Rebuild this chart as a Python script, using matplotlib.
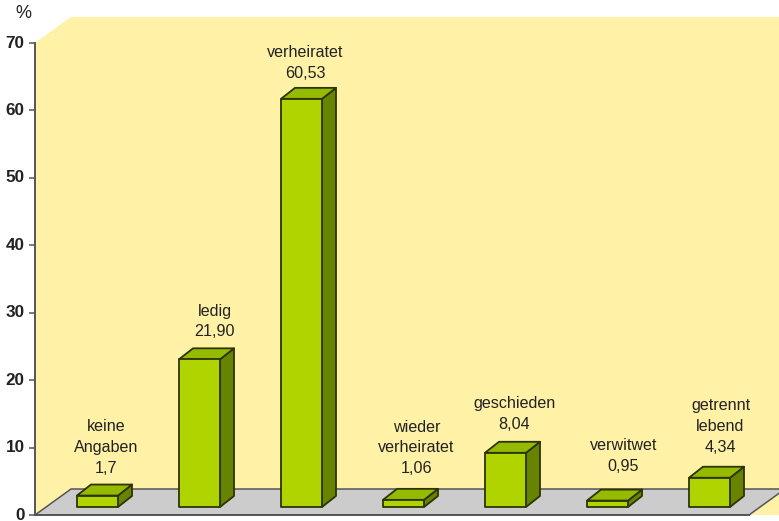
"""Marital status bar chart with a pseudo-3D look."""

import matplotlib
matplotlib.use("Agg")
import matplotlib.pyplot as plt
from matplotlib.patches import Polygon
from matplotlib.transforms import ScaledTranslation

plt.rcParams["font.family"] = ["Liberation Sans", "DejaVu Sans"]

categories = ["keine\nAngaben", "ledig", "verheiratet", "wieder\nverheiratet",
              "geschieden", "verwitwet", "getrennt\nlebend"]
values = [1.7, 21.90, 60.53, 1.06, 8.04, 0.95, 4.34]
value_labels = ["1,7", "21,90", "60,53", "1,06", "8,04", "0,95", "4,34"]
y_ticks = [0, 10, 20, 30, 40, 50, 60, 70]

WALL = "#fff2a6"
FLOOR = "#cccccc"
FRONT = "#b0d400"
TOP = "#94bb00"
SIDE = "#668400"
EDGE = "#2e3300"
AXIS = "#555555"
TEXT = "#222222"

W, H = 779, 521
PX_X = 102.0             # pixels per category step
PX_Y = 472 / 70          # pixels per percent
FIRST = 97.5             # pixel centre of the first bar

fig = plt.figure(figsize=(W / 100, H / 100), dpi=100)
ax = fig.add_axes([35 / W, (H - 515) / H, (W - 35) / W, (515 - 17) / H])
ax.set_xlim((35 - FIRST) / PX_X, (W - FIRST) / PX_X)
ax.set_ylim(0, (515 - 17) / PX_Y)
for s in ax.spines.values():
    s.set_visible(False)

# depth offsets, in data units
wall_dx, wall_dy = 36 / PX_X, 26 / PX_Y
bar_dx, bar_dy = 14 / PX_X, 11 / PX_Y
bar_w = 41 / PX_X
base = 8 / PX_Y
x0, x1 = ax.get_xlim()
ymax = ax.get_ylim()[1]
floor_end = (749 - FIRST) / PX_X

# back wall, floor
ax.add_patch(Polygon([(x0, 0), (x0, 70), (x0 + wall_dx, ymax), (x1, ymax),
                      (x1, 0)], fc=WALL, ec="none", zorder=1))
ax.add_patch(Polygon([(x0, 0), (x0 + wall_dx, wall_dy),
                      (floor_end + wall_dx, wall_dy), (floor_end, 0)],
                     fc=FLOOR, ec=AXIS, lw=1.1, zorder=2, clip_on=True))

# label offsets from the top of each bar (pixels)
label_dx = [9, 15, 4, 13, 9, 16, 11]
label_dy = [9, 9, 7, 13, 10, 16, 12]

for i, (cat, val, lab) in enumerate(zip(categories, values, value_labels)):
    left = i - bar_w / 2
    right = i + bar_w / 2
    top = base + val
    ax.add_patch(Polygon([(right, base), (right + bar_dx, base + bar_dy),
                          (right + bar_dx, top + bar_dy), (right, top)],
                         fc=SIDE, ec=EDGE, lw=1.3, joinstyle="round", zorder=3))
    ax.add_patch(Polygon([(left, top), (left + bar_dx, top + bar_dy),
                          (right + bar_dx, top + bar_dy), (right, top)],
                         fc=TOP, ec=EDGE, lw=1.3, joinstyle="round", zorder=3))
    ax.add_patch(Polygon([(left, base), (left, top), (right, top), (right, base)],
                         fc=FRONT, ec=EDGE, lw=1.3, joinstyle="round", zorder=4))
    ax.annotate(f"{cat}\n{lab}", xy=(i, top + bar_dy),
                xytext=(label_dx[i] * 0.72, label_dy[i] * 0.72),
                textcoords="offset points", ha="center", va="bottom",
                ma="center", fontsize=11.6, color=TEXT, linespacing=1.47,
                zorder=5)

# y axis
ax.plot([x0, x0], [0, 70], color=AXIS, lw=1.4, zorder=6, clip_on=False)
ax.plot([x0, floor_end], [0, 0], color=AXIS, lw=1.4, zorder=6, clip_on=False)
ax.set_xticks([])
ax.set_yticks(y_ticks)
ax.tick_params(axis="y", length=4, width=1.1, color=AXIS, pad=3.5)
nudge = ScaledTranslation(0, 1.5 / 100, fig.dpi_scale_trans)
for t in ax.get_yticklabels():
    t.set_fontsize(12.3)
    t.set_fontweight("bold")
    t.set_color(TEXT)
    t.set_verticalalignment("center_baseline")
    t.set_transform(t.get_transform() + nudge)

fig.text(23 / W, 1 - 14 / H, "%", ha="center", va="center", fontsize=13,
         color=TEXT)

fig.savefig("out.png", dpi=100, facecolor="white")
